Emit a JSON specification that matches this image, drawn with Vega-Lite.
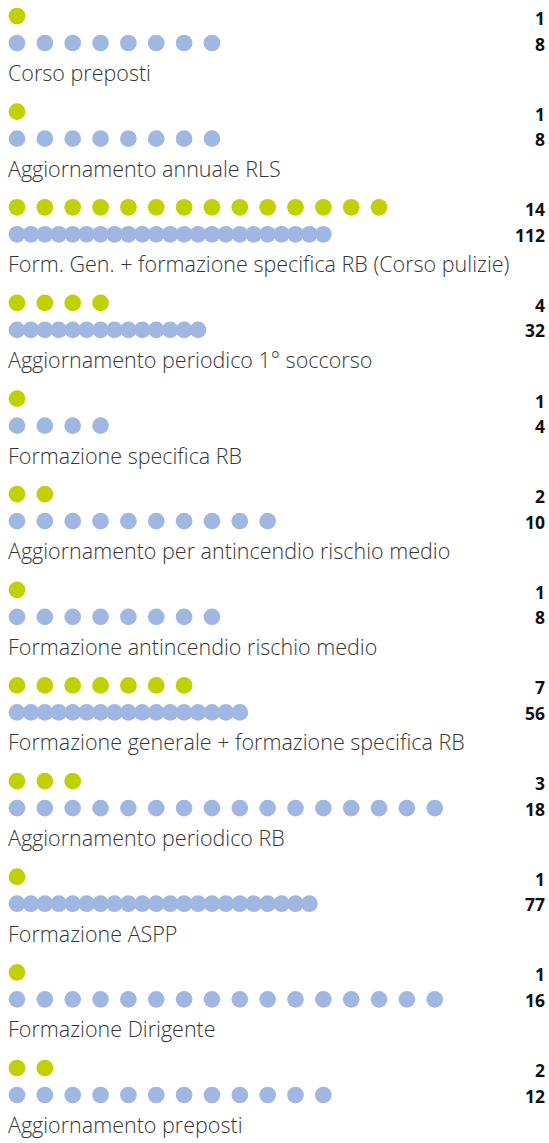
{
  "$schema": "https://vega.github.io/schema/vega-lite/v6.json",
  "width": 537,
  "height": 1143,
  "autosize": {"type": "none"},
  "padding": {"left": 8, "right": 4, "top": 0, "bottom": 0},
  "background": "white",
  "config": {"view": {"stroke": null}},
  "datasets": {
    "cats": [
      {"i": 1, "name": "Corso preposti", "g": 1, "b": 8},
      {"i": 2, "name": "Aggiornamento annuale RLS", "g": 1, "b": 8},
      {"i": 3, "name": "Form. Gen. + formazione specifica RB (Corso pulizie)", "g": 14, "b": 112},
      {"i": 4, "name": "Aggiornamento periodico 1° soccorso", "g": 4, "b": 32},
      {"i": 5, "name": "Formazione specifica RB", "g": 1, "b": 4},
      {"i": 6, "name": "Aggiornamento per antincendio rischio medio", "g": 2, "b": 10},
      {"i": 7, "name": "Formazione antincendio rischio medio", "g": 1, "b": 8},
      {"i": 8, "name": "Formazione generale + formazione specifica RB", "g": 7, "b": 56},
      {"i": 9, "name": "Aggiornamento periodico RB", "g": 3, "b": 18},
      {"i": 10, "name": "Formazione ASPP", "g": 1, "b": 77},
      {"i": 11, "name": "Formazione Dirigente", "g": 1, "b": 16},
      {"i": 12, "name": "Aggiornamento preposti", "g": 2, "b": 12}
    ],
    "green": [
      {"i": 1, "p": 1},
      {"i": 2, "p": 1},
      {"i": 3, "p": 1}, {"i": 3, "p": 2}, {"i": 3, "p": 3}, {"i": 3, "p": 4}, {"i": 3, "p": 5}, {"i": 3, "p": 6}, {"i": 3, "p": 7},
      {"i": 3, "p": 8}, {"i": 3, "p": 9}, {"i": 3, "p": 10}, {"i": 3, "p": 11}, {"i": 3, "p": 12}, {"i": 3, "p": 13}, {"i": 3, "p": 14},
      {"i": 4, "p": 1}, {"i": 4, "p": 2}, {"i": 4, "p": 3}, {"i": 4, "p": 4},
      {"i": 5, "p": 1},
      {"i": 6, "p": 1}, {"i": 6, "p": 2},
      {"i": 7, "p": 1},
      {"i": 8, "p": 1}, {"i": 8, "p": 2}, {"i": 8, "p": 3}, {"i": 8, "p": 4}, {"i": 8, "p": 5}, {"i": 8, "p": 6}, {"i": 8, "p": 7},
      {"i": 9, "p": 1}, {"i": 9, "p": 2}, {"i": 9, "p": 3},
      {"i": 10, "p": 1},
      {"i": 11, "p": 1},
      {"i": 12, "p": 1}, {"i": 12, "p": 2}
    ],
    "blue": [
      {"i": 1, "p": 1}, {"i": 1, "p": 2}, {"i": 1, "p": 3}, {"i": 1, "p": 4}, {"i": 1, "p": 5}, {"i": 1, "p": 6}, {"i": 1, "p": 7}, {"i": 1, "p": 8},
      {"i": 2, "p": 1}, {"i": 2, "p": 2}, {"i": 2, "p": 3}, {"i": 2, "p": 4}, {"i": 2, "p": 5}, {"i": 2, "p": 6}, {"i": 2, "p": 7}, {"i": 2, "p": 8},
      {"i": 3, "p": 1}, {"i": 3, "p": 1.5}, {"i": 3, "p": 2}, {"i": 3, "p": 2.5}, {"i": 3, "p": 3}, {"i": 3, "p": 3.5}, {"i": 3, "p": 4}, {"i": 3, "p": 4.5},
      {"i": 3, "p": 5}, {"i": 3, "p": 5.5}, {"i": 3, "p": 6}, {"i": 3, "p": 6.5}, {"i": 3, "p": 7}, {"i": 3, "p": 7.5}, {"i": 3, "p": 8}, {"i": 3, "p": 8.5},
      {"i": 3, "p": 9}, {"i": 3, "p": 9.5}, {"i": 3, "p": 10}, {"i": 3, "p": 10.5}, {"i": 3, "p": 11}, {"i": 3, "p": 11.5}, {"i": 3, "p": 12},
      {"i": 4, "p": 1}, {"i": 4, "p": 1.5}, {"i": 4, "p": 2}, {"i": 4, "p": 2.5}, {"i": 4, "p": 3}, {"i": 4, "p": 3.5}, {"i": 4, "p": 4},
      {"i": 4, "p": 4.5}, {"i": 4, "p": 5}, {"i": 4, "p": 5.5}, {"i": 4, "p": 6}, {"i": 4, "p": 6.5}, {"i": 4, "p": 7}, {"i": 4, "p": 7.5},
      {"i": 5, "p": 1}, {"i": 5, "p": 2}, {"i": 5, "p": 3}, {"i": 5, "p": 4},
      {"i": 6, "p": 1}, {"i": 6, "p": 2}, {"i": 6, "p": 3}, {"i": 6, "p": 4}, {"i": 6, "p": 5}, {"i": 6, "p": 6}, {"i": 6, "p": 7}, {"i": 6, "p": 8}, {"i": 6, "p": 9}, {"i": 6, "p": 10},
      {"i": 7, "p": 1}, {"i": 7, "p": 2}, {"i": 7, "p": 3}, {"i": 7, "p": 4}, {"i": 7, "p": 5}, {"i": 7, "p": 6}, {"i": 7, "p": 7}, {"i": 7, "p": 8},
      {"i": 8, "p": 1}, {"i": 8, "p": 1.5}, {"i": 8, "p": 2}, {"i": 8, "p": 2.5}, {"i": 8, "p": 3}, {"i": 8, "p": 3.5}, {"i": 8, "p": 4}, {"i": 8, "p": 4.5},
      {"i": 8, "p": 5}, {"i": 8, "p": 5.5}, {"i": 8, "p": 6}, {"i": 8, "p": 6.5}, {"i": 8, "p": 7}, {"i": 8, "p": 7.5}, {"i": 8, "p": 8}, {"i": 8, "p": 8.5}, {"i": 8, "p": 9},
      {"i": 9, "p": 1}, {"i": 9, "p": 2}, {"i": 9, "p": 3}, {"i": 9, "p": 4}, {"i": 9, "p": 5}, {"i": 9, "p": 6}, {"i": 9, "p": 7}, {"i": 9, "p": 8},
      {"i": 9, "p": 9}, {"i": 9, "p": 10}, {"i": 9, "p": 11}, {"i": 9, "p": 12}, {"i": 9, "p": 13}, {"i": 9, "p": 14}, {"i": 9, "p": 15}, {"i": 9, "p": 16},
      {"i": 10, "p": 1}, {"i": 10, "p": 1.5}, {"i": 10, "p": 2}, {"i": 10, "p": 2.5}, {"i": 10, "p": 3}, {"i": 10, "p": 3.5}, {"i": 10, "p": 4}, {"i": 10, "p": 4.5},
      {"i": 10, "p": 5}, {"i": 10, "p": 5.5}, {"i": 10, "p": 6}, {"i": 10, "p": 6.5}, {"i": 10, "p": 7}, {"i": 10, "p": 7.5}, {"i": 10, "p": 8}, {"i": 10, "p": 8.5},
      {"i": 10, "p": 9}, {"i": 10, "p": 9.5}, {"i": 10, "p": 10}, {"i": 10, "p": 10.5}, {"i": 10, "p": 11}, {"i": 10, "p": 11.5},
      {"i": 11, "p": 1}, {"i": 11, "p": 2}, {"i": 11, "p": 3}, {"i": 11, "p": 4}, {"i": 11, "p": 5}, {"i": 11, "p": 6}, {"i": 11, "p": 7}, {"i": 11, "p": 8},
      {"i": 11, "p": 9}, {"i": 11, "p": 10}, {"i": 11, "p": 11}, {"i": 11, "p": 12}, {"i": 11, "p": 13}, {"i": 11, "p": 14}, {"i": 11, "p": 15}, {"i": 11, "p": 16},
      {"i": 12, "p": 1}, {"i": 12, "p": 2}, {"i": 12, "p": 3}, {"i": 12, "p": 4}, {"i": 12, "p": 5}, {"i": 12, "p": 6}, {"i": 12, "p": 7}, {"i": 12, "p": 8},
      {"i": 12, "p": 9}, {"i": 12, "p": 10}, {"i": 12, "p": 11}, {"i": 12, "p": 12}
    ]
  },
  "resolve": {"scale": {"x": "shared", "y": "shared"}},
  "layer": [
    {
      "data": {"name": "green"},
      "mark": {"type": "circle", "size": 280, "opacity": 1, "color": "#bfd100"},
      "encoding": {
        "x": {"field": "p", "type": "quantitative", "axis": null, "scale": {"domain": [0.677, 19.959], "nice": false, "zero": false}},
        "y": {"field": "i", "type": "ordinal", "axis": null, "scale": {"type": "point", "padding": 0, "domain": [1,2,3,4,5,6,7,8,9,10,11,12], "range": [16, 1068]}}
      }
    },
    {
      "data": {"name": "blue"},
      "mark": {"type": "circle", "size": 280, "opacity": 1, "color": "#a0b8e1", "yOffset": 27},
      "encoding": {
        "x": {"field": "p", "type": "quantitative", "axis": null},
        "y": {"field": "i", "type": "ordinal", "axis": null}
      }
    },
    {
      "data": {"name": "cats"},
      "mark": {"type": "text", "align": "left", "baseline": "alphabetic", "yOffset": 65, "font": "Open Sans", "fontWeight": 300, "fontSize": 21.5, "color": "#363636"},
      "encoding": {
        "x": {"value": 0},
        "y": {"field": "i", "type": "ordinal", "axis": null},
        "text": {"field": "name"}
      }
    },
    {
      "data": {"name": "cats"},
      "mark": {"type": "text", "align": "right", "baseline": "middle", "yOffset": 4, "font": "Open Sans", "fontWeight": "bold", "fontSize": 17.5, "color": "#111111"},
      "encoding": {
        "x": {"value": "width"},
        "y": {"field": "i", "type": "ordinal", "axis": null},
        "text": {"field": "g"}
      }
    },
    {
      "data": {"name": "cats"},
      "mark": {"type": "text", "align": "right", "baseline": "middle", "yOffset": 29.5, "font": "Open Sans", "fontWeight": "bold", "fontSize": 17.5, "color": "#111111"},
      "encoding": {
        "x": {"value": "width"},
        "y": {"field": "i", "type": "ordinal", "axis": null},
        "text": {"field": "b"}
      }
    }
  ]
}
